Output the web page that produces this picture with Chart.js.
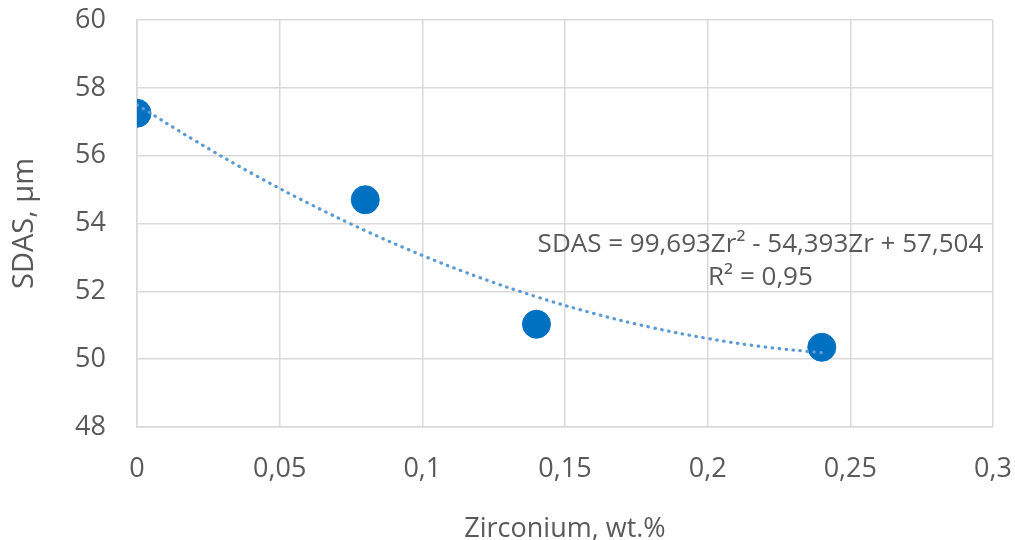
<!DOCTYPE html>
<html>
<head>
<meta charset="utf-8">
<script src="https://cdn.jsdelivr.net/npm/chart.js@4.4.1/dist/chart.umd.min.js"></script>
<style>
  html, body { margin: 0; padding: 0; background: #ffffff; }
  #wrap { width: 1015px; height: 540px; }
</style>
</head>
<body>
<div id="wrap"><canvas id="c" width="1015" height="540"></canvas></div>
<script>
// Measured data points (Zr wt.% vs SDAS µm)
const zirconium = [0, 0.08, 0.14, 0.24];
const sdas = [57.25, 54.7, 51.03, 50.35];

// Polynomial trendline as drawn in the picture
const trendX = [0, 0.02, 0.04, 0.06, 0.08, 0.10, 0.12, 0.14, 0.16, 0.18, 0.20, 0.22, 0.24];
const trendY = [57.50, 56.46, 55.49, 54.60, 53.79, 53.06, 52.41, 51.84, 51.35, 50.94, 50.61, 50.36, 50.19];

// Tick labels
const xTickLabels = ['0', '0,05', '0,1', '0,15', '0,2', '0,25', '0,3'];
const yTickLabels = ['48', '50', '52', '54', '56', '58', '60'];

// Equation annotation
const equationLines = ['SDAS = 99,693Zr\u00B2 - 54,393Zr + 57,504', 'R\u00B2 = 0,95'];
const equationAnchor = [0.2185, 53.16, 52.19]; // x, baseline y of line 1, baseline y of line 2

const TEXT = '#595959';
const GRID = '#d9d9d9';
const FONT = '"Open Sans", "Noto Sans", sans-serif';

const equationPlugin = {
  id: 'equation',
  afterDatasetsDraw(chart) {
    const { ctx, scales } = chart;
    const x = scales.x.getPixelForValue(equationAnchor[0]);
    ctx.save();
    ctx.font = '26px ' + FONT;
    ctx.fillStyle = TEXT;
    ctx.textAlign = 'center';
    ctx.textBaseline = 'alphabetic';
    ctx.fillText(equationLines[0], x, scales.y.getPixelForValue(equationAnchor[1]));
    ctx.fillText(equationLines[1], x, scales.y.getPixelForValue(equationAnchor[2]));
    ctx.restore();
  }
};

new Chart(document.getElementById('c'), {
  type: 'scatter',
  data: {
    datasets: [
      {
        label: 'Trendline',
        type: 'line',
        data: trendX.map((x, i) => ({ x: x, y: trendY[i] })),
        borderColor: '#5b9bd5',
        borderWidth: 3.2,
        borderDash: [0.5, 6.5],
        borderCapStyle: 'round',
        pointRadius: 0,
        tension: 0.4,
        fill: false,
        order: 0
      },
      {
        label: 'SDAS',
        data: zirconium.map((x, i) => ({ x: x, y: sdas[i] })),
        backgroundColor: '#0070c0',
        borderColor: '#0070c0',
        pointRadius: 14,
        pointHoverRadius: 14,
        order: 1
      }
    ]
  },
  options: {
    responsive: false,
    animation: false,
    devicePixelRatio: 1,
    layout: { autoPadding: false, padding: { top: 20, right: 22, left: 0, bottom: 0 } },
    plugins: {
      legend: { display: false },
      tooltip: { enabled: false }
    },
    scales: {
      x: {
        type: 'linear',
        min: 0,
        max: 0.3,
        afterFit(s) { s.height = 113; },
        ticks: {
          stepSize: 0.05,
          color: TEXT,
          font: { family: FONT, size: 27 },
          padding: 0,
          maxRotation: 0,
          callback: (v, i) => xTickLabels[i]
        },
        grid: { color: GRID, lineWidth: 1.5, drawTicks: true, tickLength: 26, tickColor: 'rgba(0,0,0,0)' },
        border: { color: GRID, width: 1.5 },
        title: {
          display: true,
          text: 'Zirconium, wt.%',
          color: TEXT,
          font: { family: FONT, size: 27, lineHeight: 0.8 },
          padding: { top: 0, bottom: 0 }
        }
      },
      y: {
        type: 'linear',
        min: 48,
        max: 60,
        afterFit(s) { s.width = 137; },
        ticks: {
          stepSize: 2,
          color: TEXT,
          font: { family: FONT, size: 27 },
          padding: 0,
          callback: (v, i) => yTickLabels[i]
        },
        grid: { color: GRID, lineWidth: 1.5, drawTicks: true, tickLength: 31, tickColor: 'rgba(0,0,0,0)' },
        border: { color: GRID, width: 1.5 },
        title: {
          display: true,
          text: 'SDAS, \u00B5m',
          color: TEXT,
          font: { family: FONT, size: 29, lineHeight: 1.2 },
          padding: { top: 7, bottom: 0 }
        }
      }
    }
  },
  plugins: [equationPlugin]
});
</script>
</body>
</html>
